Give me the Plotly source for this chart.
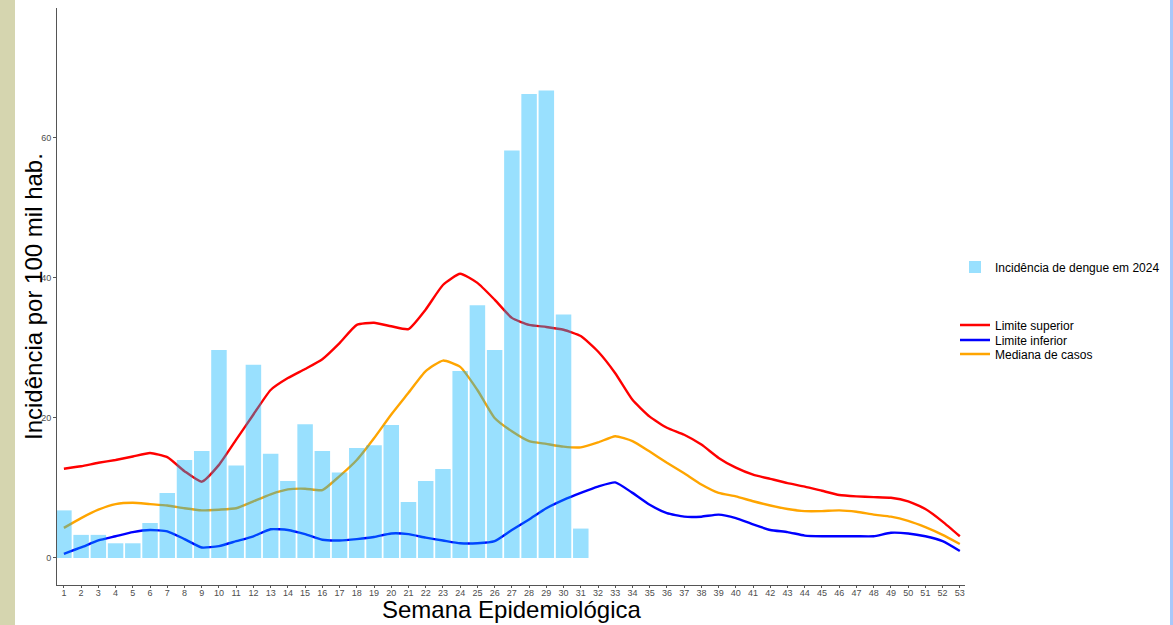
import plotly.graph_objects as go

semanas = list(range(1, 54))
semanas_2024 = list(range(1, 32))
incidencia_2024 = [6.8, 3.3, 3.3, 2.1, 2.1, 5.0, 9.3, 14.0, 15.3, 29.7,
                   13.2, 27.6, 14.9, 11.0, 19.1, 15.3, 12.2, 15.7, 16.1, 19.0,
                   8.0, 11.0, 12.7, 26.7, 36.1, 29.7, 58.2, 66.3, 66.8, 34.8,
                   4.2]
limite_superior = [12.75, 13.1, 13.6, 14.0, 14.5, 15.0, 14.4, 12.4, 10.9, 13.3,
                   16.9, 20.5, 24.0, 25.7, 27.0, 28.4, 30.7, 33.3, 33.6, 33.1,
                   32.7, 35.5, 39.0, 40.6, 39.3, 36.9, 34.3, 33.3, 33.0, 32.6,
                   31.7, 29.5, 26.4, 22.6, 20.2, 18.6, 17.6, 16.2, 14.3, 12.9,
                   11.9, 11.3, 10.7, 10.2, 9.6, 9.0, 8.8, 8.7, 8.6, 8.1,
                   7.0, 5.2, 3.1]
limite_inferior = [0.6, 1.5, 2.5, 3.1, 3.7, 4.0, 3.8, 2.7, 1.5, 1.7,
                   2.4, 3.1, 4.1, 4.0, 3.4, 2.6, 2.5, 2.7, 3.0, 3.5,
                   3.4, 2.9, 2.5, 2.1, 2.1, 2.4, 4.0, 5.5, 7.1, 8.3,
                   9.3, 10.2, 10.8, 9.3, 7.6, 6.4, 5.9, 5.9, 6.2, 5.7,
                   4.8, 4.0, 3.7, 3.2, 3.1, 3.1, 3.1, 3.1, 3.6, 3.5,
                   3.1, 2.4, 1.0]
mediana = [4.3, 5.7, 6.9, 7.7, 7.9, 7.7, 7.5, 7.1, 6.8, 6.9,
           7.1, 8.1, 9.1, 9.8, 9.9, 9.7, 11.7, 14.0, 17.1, 20.5,
           23.6, 26.7, 28.2, 27.3, 24.0, 20.0, 18.1, 16.7, 16.3, 15.9,
           15.8, 16.5, 17.4, 16.7, 15.2, 13.6, 12.1, 10.5, 9.3, 8.8,
           8.1, 7.5, 7.0, 6.7, 6.7, 6.8, 6.6, 6.2, 5.9, 5.3,
           4.4, 3.3, 2.0]
y_ticks = [0, 20, 40, 60]

FONT = "Liberation Sans, Arial, sans-serif"
YR = [-3.86, 78.57]
XR = [0.6, 53.3]

fig = go.Figure()
fig.add_trace(go.Bar(x=semanas_2024, y=incidencia_2024, yaxis="y2",
                     name="Incidência de dengue em 2024", showlegend=True,
                     marker=dict(color="rgba(0,178,252,0.4)", line=dict(width=0)),
                     legend="legend"))
fig.add_trace(go.Scatter(x=semanas, y=limite_superior, mode="lines", name="Limite superior",
                         showlegend=True, line=dict(color="#FF0000", width=2.4, shape="spline", smoothing=0.5),
                         legend="legend2"))
fig.add_trace(go.Scatter(x=semanas, y=limite_inferior, mode="lines", name="Limite inferior",
                         showlegend=True, line=dict(color="#0000FF", width=2.4, shape="spline", smoothing=0.5),
                         legend="legend3"))
fig.add_trace(go.Scatter(x=semanas, y=mediana, mode="lines", name="Mediana de casos",
                         showlegend=True, line=dict(color="#FFA500", width=2.4, shape="spline", smoothing=0.5),
                         legend="legend4"))

L, R, T, B = 57, 208, 8, 40
W, H = 1173, 625
pw, ph = W - L - R, H - T - B

def px(xp):
    return (xp - L) / pw

def py(yp):
    return (H - B - yp) / ph

leg_common = dict(xanchor="left", yanchor="middle", bgcolor="rgba(0,0,0,0)",
                  font=dict(family=FONT, size=12, color="#000000"), borderwidth=0)

fig.update_layout(
    width=W, height=H,
    margin=dict(l=L, r=R, t=T, b=B),
    paper_bgcolor="white", plot_bgcolor="white",
    bargap=0.1,
    showlegend=True,
    font=dict(family=FONT),
    xaxis=dict(range=XR, tickmode="array", tickvals=semanas, ticktext=[str(s) for s in semanas],
               showgrid=False, zeroline=False, showline=True, linecolor="#555555", linewidth=1,
               ticks="outside", ticklen=2, tickcolor="#555555", ticklabelstandoff=-3,
               tickfont=dict(family=FONT, size=9, color="#4D4D4D")),
    yaxis=dict(range=YR, tickmode="array", tickvals=y_ticks, ticktext=[str(v) for v in y_ticks],
               showgrid=False, zeroline=False, showline=True, linecolor="#555555", linewidth=1,
               ticks="outside", ticklen=3, tickcolor="#555555",
               tickfont=dict(family=FONT, size=9, color="#4D4D4D")),
    yaxis2=dict(range=YR, overlaying="y", visible=False, showgrid=False, zeroline=False),
    legend=dict(x=px(955), y=py(267), **leg_common),
    legend2=dict(x=px(955), y=py(325), **leg_common),
    legend3=dict(x=px(955), y=py(340), **leg_common),
    legend4=dict(x=px(955), y=py(354), **leg_common),
    annotations=[
        dict(text="Semana Epidemiológica", xref="paper", yref="paper",
             x=px(511), y=py(609), xanchor="center", yanchor="middle", showarrow=False,
             font=dict(family=FONT, size=24, color="#000000")),
        dict(text="Incidência por 100 mil hab.", xref="paper", yref="paper",
             x=px(33), y=py(297), xanchor="center", yanchor="middle", showarrow=False,
             textangle=-90, font=dict(family=FONT, size=24, color="#000000")),
    ],
    shapes=[
        dict(type="rect", xref="paper", yref="paper", x0=px(0), x1=px(15), y0=py(H + 5), y1=py(-5),
             fillcolor="#D5D5AF", line=dict(width=0), layer="below"),
        dict(type="rect", xref="paper", yref="paper", x0=px(1170), x1=px(1180), y0=py(H + 5), y1=py(-5),
             fillcolor="#A8C8FA", line=dict(width=0), layer="below"),
    ],
)

fig.write_html("out.html", post_script="document.body.style.margin='0';",
               config={"displayModeBar": False})
